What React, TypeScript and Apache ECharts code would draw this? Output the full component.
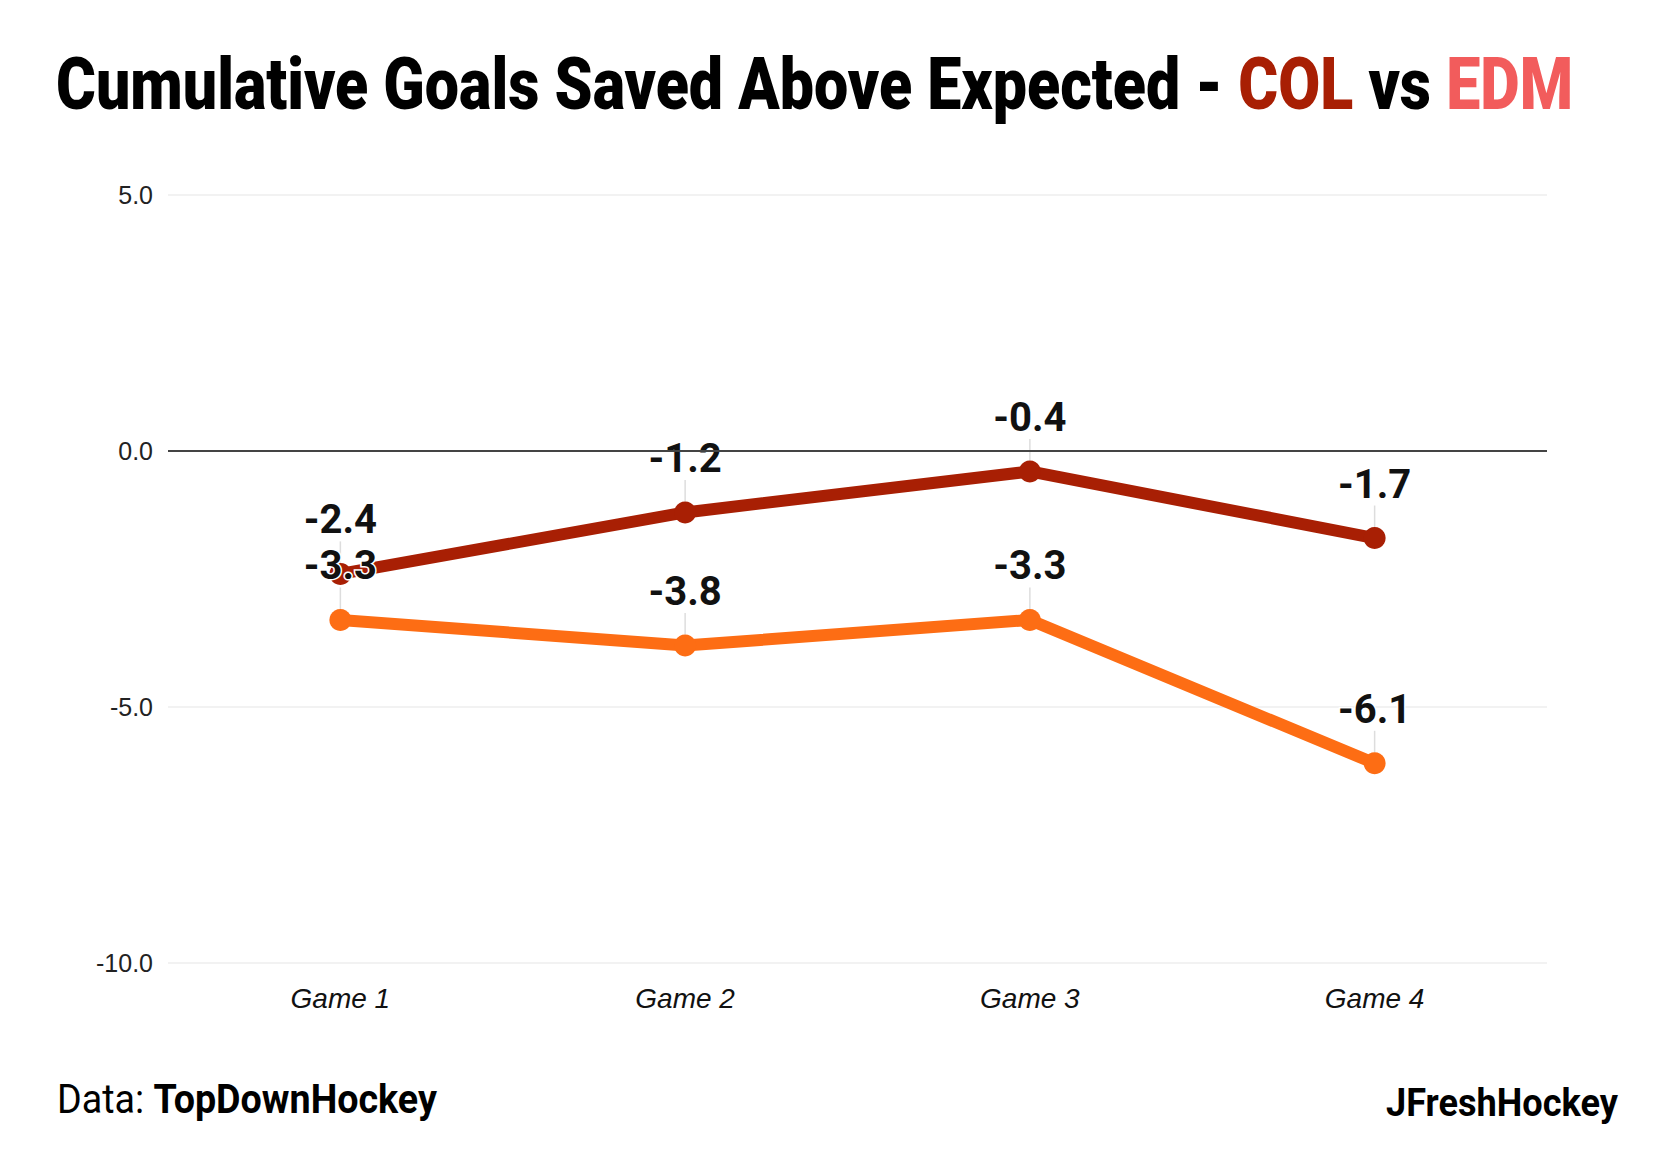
import React, { useEffect, useRef } from "react";
import * as echarts from "echarts";

const categories = ["Game 1", "Game 2", "Game 3", "Game 4"];
const colValues = [-2.4, -1.2, -0.4, -1.7];
const edmValues = [-3.3, -3.8, -3.3, -6.1];
const yMin = -10;
const yMax = 5;
const yInterval = 5;

const COL_COLOR = "#a81f04";
const EDM_TITLE_COLOR = "#f25c5c";
const EDM_LINE_COLOR = "#fd6d14";

function measure(text: string, font: string): number {
  const c = document.createElement("canvas").getContext("2d");
  if (!c) return text.length * 20;
  c.font = font;
  return c.measureText(text).width;
}

export default function App() {
  const ref = useRef<HTMLDivElement>(null);

  useEffect(() => {
    if (!ref.current) return;
    const chart = echarts.init(ref.current, undefined, { renderer: "svg" });

    const titleFont = "900 72px Roboto";
    const titleParts = ["Cumulative Goals Saved Above Expected - ", "COL", " vs ", "EDM"];
    const titleW = measure(titleParts.join(""), titleFont);
    const titleScale = 1517 / titleW;

    const dataW = measure("Data: ", "400 40px Roboto") + measure("TopDownHockey", "bold 40px Roboto");
    const dataScale = 380 / dataW;

    const jfW = measure("JFreshHockey", "bold 38px Roboto");
    const jfScale = 232 / jfW;

    const labelCfg = {
      show: true,
      position: "top",
      distance: 4,
      fontFamily: "Roboto",
      fontWeight: "bold",
      fontSize: 40,
      color: "#111",
      textBorderColor: "#fff",
      textBorderWidth: 3,
      formatter: (p: any) => Number(p.value).toFixed(1),
    };

    const titleRich = (fill: string) => ({
      fontFamily: "Roboto",
      fontWeight: 900,
      fontSize: 72,
      fill,
    });

    chart.setOption({
      animation: false,
      backgroundColor: "#fff",
      grid: { left: 168, right: 133, top: 195, bottom: 199 },
      xAxis: {
        type: "category",
        data: categories,
        boundaryGap: true,
        axisLine: { show: false },
        axisTick: { show: false },
        axisLabel: {
          fontFamily: "Liberation Sans",
          fontStyle: "italic",
          fontSize: 28,
          color: "#111",
          margin: 21,
        },
        splitLine: { show: false },
      },
      yAxis: {
        type: "value",
        min: yMin,
        max: yMax,
        interval: yInterval,
        axisLine: { show: false },
        axisTick: { show: false },
        axisLabel: {
          fontFamily: "Liberation Sans",
          fontSize: 25,
          color: "#222",
          margin: 15,
          formatter: (v: number) => v.toFixed(1),
        },
        splitLine: { lineStyle: { color: "#eeeeee", width: 1.5 } },
      },
      graphic: [
        {
          type: "text",
          x: 56,
          y: 84,
          scaleX: titleScale,
          style: {
            text:
              "{a|" + titleParts[0] + "}{c|" + titleParts[1] + "}{a|" + titleParts[2] + "}{e|" + titleParts[3] + "}",
            verticalAlign: "middle",
            rich: {
              a: titleRich("#000"),
              c: titleRich(COL_COLOR),
              e: titleRich(EDM_TITLE_COLOR),
            },
          },
        },
        {
          type: "text",
          x: 57,
          y: 1099,
          scaleX: dataScale,
          style: {
            text: "{r|Data: }{b|TopDownHockey}",
            verticalAlign: "middle",
            rich: {
              r: { fontFamily: "Roboto", fontWeight: 400, fontSize: 40, fill: "#000" },
              b: { fontFamily: "Roboto", fontWeight: "bold", fontSize: 40, fill: "#000" },
            },
          },
        },
        {
          type: "text",
          x: 1386,
          y: 1103,
          scaleX: jfScale,
          style: {
            text: "JFreshHockey",
            fontFamily: "Roboto",
            fontWeight: "bold",
            fontSize: 38,
            fill: "#000",
            verticalAlign: "middle",
          },
        },
      ],
      series: [
        {
          name: "COL",
          type: "line",
          data: colValues,
          symbol: "circle",
          symbolSize: 22,
          lineStyle: { color: COL_COLOR, width: 12 },
          itemStyle: { color: COL_COLOR },
          label: labelCfg,
          labelLayout: { dy: -19 },
          labelLine: { show: true, lineStyle: { color: "#dddddd", width: 1.5 } },
          markLine: {
            silent: true,
            symbol: "none",
            label: { show: false },
            lineStyle: { color: "#444", width: 2, type: "solid" },
            data: [{ yAxis: 0 }],
          },
          z: 2,
        },
        {
          name: "EDM",
          type: "line",
          data: edmValues,
          symbol: "circle",
          symbolSize: 22,
          lineStyle: { color: EDM_LINE_COLOR, width: 12 },
          itemStyle: { color: EDM_LINE_COLOR },
          label: labelCfg,
          labelLayout: { dy: -19 },
          labelLine: { show: true, lineStyle: { color: "#dddddd", width: 1.5 } },
          z: 3,
        },
      ],
    });

    return () => chart.dispose();
  }, []);

  return (
    <div
      ref={ref}
      style={{ position: "fixed", left: 0, top: 0, width: 1680, height: 1162, background: "#fff" }}
    />
  );
}
